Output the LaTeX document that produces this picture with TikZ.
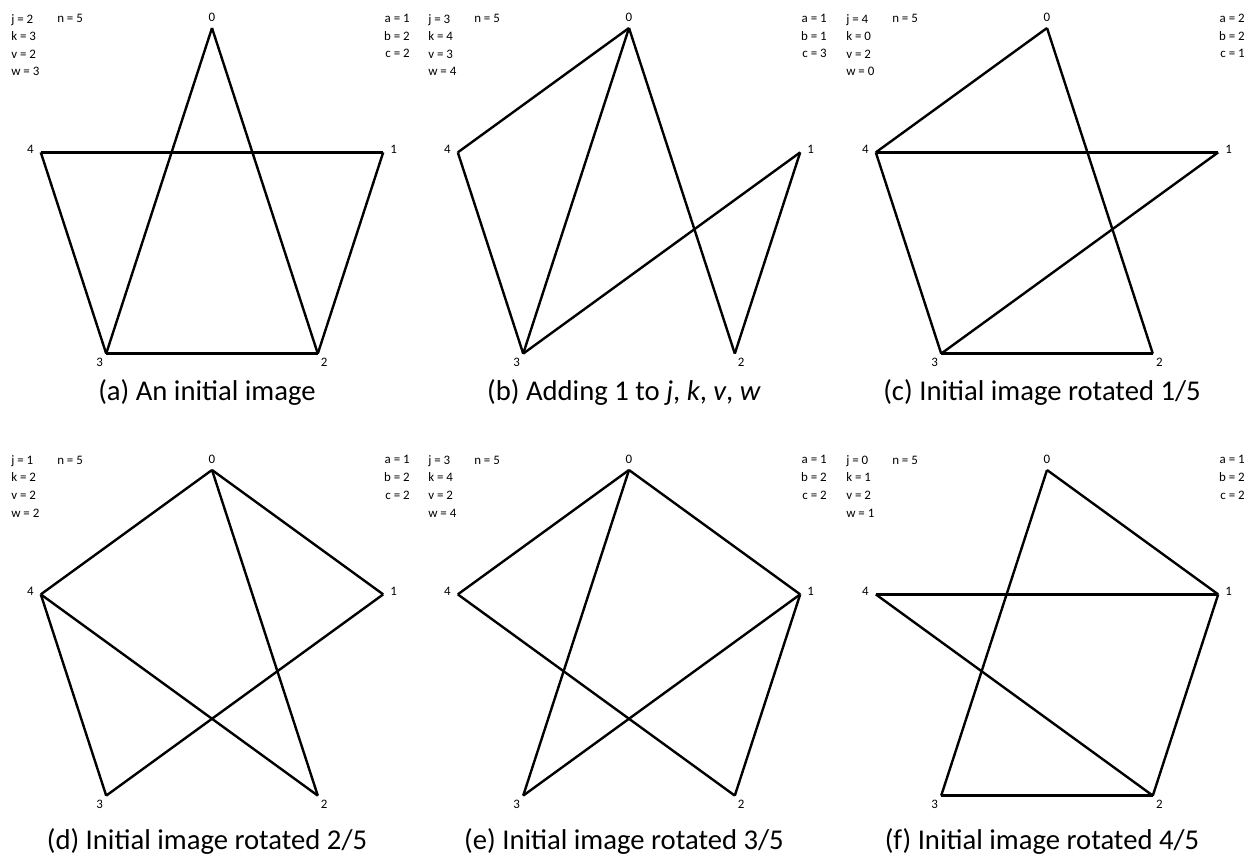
\documentclass[tikz,border=0pt]{standalone}
\usepackage{fontspec}
\setmainfont{Carlito}
\begin{document}
\begin{tikzpicture}[x=0.75pt,y=0.75pt,
    edge/.style={line width=1.8pt},
    vlabel/.style={font=\fontsize{9.7}{12}\selectfont, inner sep=0pt},
    vars/.style={font=\fontsize{9.7}{13.2}\selectfont, inner sep=0pt},
    caption/.style={font=\fontsize{21.5}{26}\selectfont, inner sep=0pt, anchor=base}]
    \useasboundingbox (0,0) rectangle (1256,-856);

    % Pentagons: panel / centre / edges
    \foreach \p/\px/\py/\E in {
        a/212/-208/{0/2,0/3,4/1,4/3,1/2,3/2},
        b/629/-208/{0/4,0/3,0/2,4/3,3/1,1/2},
        c/1047/-208/{0/4,0/2,4/1,4/3,3/1,3/2},
        d/212/-650/{0/4,0/1,0/2,4/3,4/2,3/1},
        e/629/-650/{0/4,0/1,0/3,4/2,3/1,1/2},
        f/1047/-650/{0/1,0/3,4/1,4/2,1/2,3/2}}{
        \begin{scope}[shift={(\px,\py)}]
            \foreach \i in {0,...,4}{
                \coordinate (\p\i) at (90-72*\i:180);
                \node [vlabel] (\p l\i) at (90-72*\i:191) {\i};
            }
            \foreach \s/\t in \E
                \draw [edge] (\p\s) -- (\p\t);
        \end{scope}
    }

    % Panel (a)
    \node [vars, anchor=base west, align=left] (a-jkvw) at (11,-76) {j = 2\\k = 3\\v = 2\\w = 3};
    \node [vars, anchor=base west] (a-n) at (57,-23) {n = 5};
    \node [vars, anchor=base east, align=right] (a-abc) at (410,-58) {a = 1\\b = 2\\c = 2};
    \node [caption] (a-cap) at (207,-400) {(a) An initial image};

    % Panel (b)
    \node [vars, anchor=base west, align=left] (b-jkvw) at (428,-76) {j = 3\\k = 4\\v = 3\\w = 4};
    \node [vars, anchor=base west] (b-n) at (474,-23) {n = 5};
    \node [vars, anchor=base east, align=right] (b-abc) at (827,-58) {a = 1\\b = 1\\c = 3};
    \node [caption] (b-cap) at (624,-400) {(b) Adding 1 to \textit{j}, \textit{k}, \textit{v}, \textit{w}};

    % Panel (c)
    \node [vars, anchor=base west, align=left] (c-jkvw) at (846,-76) {j = 4\\k = 0\\v = 2\\w = 0};
    \node [vars, anchor=base west] (c-n) at (892,-23) {n = 5};
    \node [vars, anchor=base east, align=right] (c-abc) at (1245,-58) {a = 2\\b = 2\\c = 1};
    \node [caption] (c-cap) at (1042,-400) {(c) Initial image rotated 1/5};

    % Panel (d)
    \node [vars, anchor=base west, align=left] (d-jkvw) at (11,-517) {j = 1\\k = 2\\v = 2\\w = 2};
    \node [vars, anchor=base west] (d-n) at (57,-464) {n = 5};
    \node [vars, anchor=base east, align=right] (d-abc) at (410,-499) {a = 1\\b = 2\\c = 2};
    \node [caption] (d-cap) at (207,-849) {(d) Initial image rotated 2/5};

    % Panel (e)
    \node [vars, anchor=base west, align=left] (e-jkvw) at (428,-517) {j = 3\\k = 4\\v = 2\\w = 4};
    \node [vars, anchor=base west] (e-n) at (474,-464) {n = 5};
    \node [vars, anchor=base east, align=right] (e-abc) at (827,-499) {a = 1\\b = 2\\c = 2};
    \node [caption] (e-cap) at (624,-849) {(e) Initial image rotated 3/5};

    % Panel (f)
    \node [vars, anchor=base west, align=left] (f-jkvw) at (846,-517) {j = 0\\k = 1\\v = 2\\w = 1};
    \node [vars, anchor=base west] (f-n) at (892,-464) {n = 5};
    \node [vars, anchor=base east, align=right] (f-abc) at (1245,-499) {a = 1\\b = 2\\c = 2};
    \node [caption] (f-cap) at (1042,-849) {(f) Initial image rotated 4/5};
\end{tikzpicture}
\end{document}
